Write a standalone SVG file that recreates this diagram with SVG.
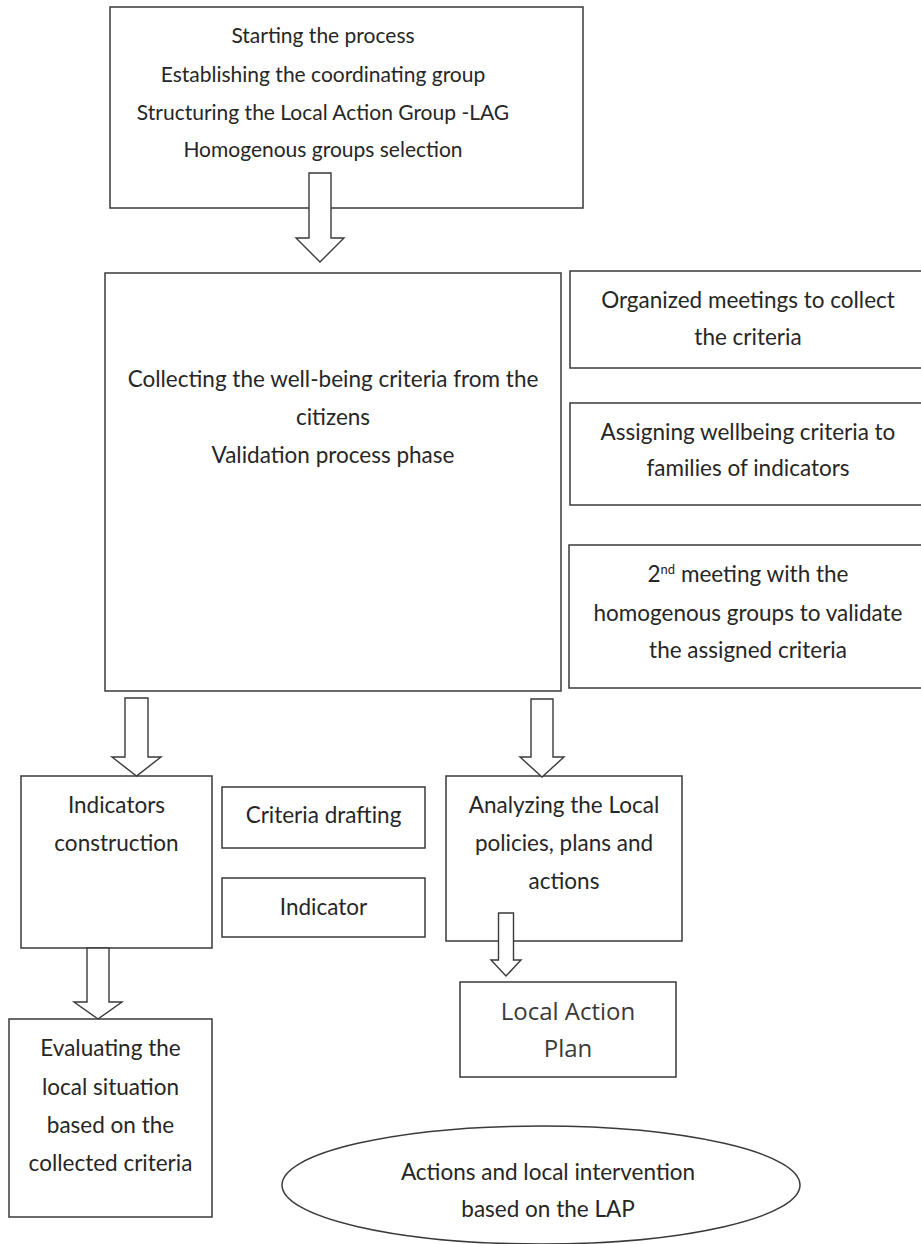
<svg xmlns="http://www.w3.org/2000/svg" width="921" height="1244" viewBox="0 0 921 1244">
<style>
  .box { fill: #ffffff; stroke: #3a3a3a; stroke-width: 1.5; }
  .arrow { fill: #ffffff; stroke: #3a3a3a; stroke-width: 1.4; stroke-linejoin: miter; }
  .t { font-family: Lato, "Liberation Sans", sans-serif; font-size: 22.5px; fill: #262626; text-anchor: middle; }
  .top { font-size: 21px; }
  .lap { font-family: "Open Sans", "Noto Sans", sans-serif; font-size: 24px; fill: #3a3a3a; text-anchor: middle; }
</style>
<rect width="921" height="1244" fill="#ffffff"/>

<g id="start">
  <rect class="box" x="110" y="7" width="473" height="201"/>
  <text class="t top" x="323" y="43">Starting the process</text>
  <text class="t top" x="323" y="82">Establishing the coordinating group</text>
  <text class="t top" x="323" y="120">Structuring the Local Action Group -LAG</text>
  <text class="t top" x="323" y="157">Homogenous groups selection</text>
</g>

<g id="collecting">
  <rect class="box" x="105" y="273" width="456" height="418"/>
  <text class="t" x="333" y="387">Collecting the well-being criteria from the</text>
  <text class="t" x="333" y="425">citizens</text>
  <text class="t" x="333" y="463">Validation process phase</text>
</g>

<g id="organized">
  <rect class="box" x="570" y="271" width="360" height="97"/>
  <text class="t" x="748" y="308">Organized meetings to collect</text>
  <text class="t" x="748" y="345">the criteria</text>
</g>

<g id="assigning">
  <rect class="box" x="570" y="403" width="360" height="102"/>
  <text class="t" x="748" y="440">Assigning wellbeing criteria to</text>
  <text class="t" x="748" y="476">families of indicators</text>
</g>

<g id="second-meeting">
  <rect class="box" x="569" y="545" width="361" height="143"/>
  <text class="t" x="748" y="582">2<tspan font-size="13" dy="-8">nd</tspan><tspan dy="8"> meeting with the</tspan></text>
  <text class="t" x="748" y="621">homogenous groups to validate</text>
  <text class="t" x="748" y="658">the assigned criteria</text>
</g>

<g id="indicators-construction">
  <rect class="box" x="21" y="776" width="191" height="172"/>
  <text class="t" x="116.5" y="813">Indicators</text>
  <text class="t" x="116.5" y="851">construction</text>
</g>

<g id="criteria-drafting">
  <rect class="box" x="222" y="787" width="203" height="61"/>
  <text class="t" x="323.5" y="823">Criteria drafting</text>
</g>

<g id="indicator">
  <rect class="box" x="222" y="878" width="203" height="59"/>
  <text class="t" x="323.5" y="915">Indicator</text>
</g>

<g id="analyzing">
  <rect class="box" x="446" y="776" width="236" height="165"/>
  <text class="t" x="564" y="813">Analyzing the Local</text>
  <text class="t" x="564" y="851">policies, plans and</text>
  <text class="t" x="564" y="889">actions</text>
</g>

<g id="evaluating">
  <rect class="box" x="9" y="1019" width="203" height="198"/>
  <text class="t" x="110.5" y="1056">Evaluating the</text>
  <text class="t" x="110.5" y="1095">local situation</text>
  <text class="t" x="110.5" y="1133">based on the</text>
  <text class="t" x="110.5" y="1171">collected criteria</text>
</g>

<g id="local-action-plan">
  <rect class="box" x="460" y="982" width="216" height="95"/>
  <text class="lap" x="568" y="1020">Local Action</text>
  <text class="lap" x="568" y="1057">Plan</text>
</g>

<g id="actions-intervention">
  <ellipse class="box" cx="541" cy="1185" rx="259" ry="59"/>
  <text class="t" x="548" y="1180">Actions and local intervention</text>
  <text class="t" x="548" y="1217">based on the LAP</text>
</g>

<g id="connectors">
  <path class="arrow" d="M309,173 L331,173 L331,238 L344,238 L320,262 L296,238 L309,238 Z"/>
  <path class="arrow" d="M125,698 L148,698 L148,757 L161,757 L136.5,776 L112,757 L125,757 Z"/>
  <path class="arrow" d="M531,699 L553,699 L553,757 L564,757 L542,777 L520,757 L531,757 Z"/>
  <path class="arrow" d="M87,948 L109,948 L109,1002 L122,1002 L98,1019 L74,1002 L87,1002 Z"/>
  <path class="arrow" d="M498.5,913 L513.5,913 L513.5,960 L521,960 L506,976 L491,960 L498.5,960 Z"/>
</g>
</svg>
